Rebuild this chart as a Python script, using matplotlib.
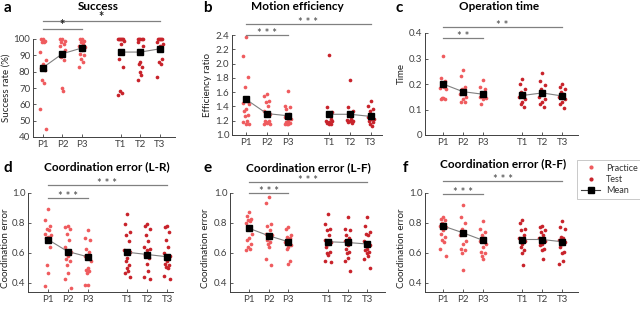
import matplotlib
matplotlib.use("Agg")
import matplotlib.pyplot as plt
from matplotlib.lines import Line2D

plt.rcParams["font.family"] = ["Lato", "DejaVu Sans"]

W, H = 640, 309

groups = ["P1", "P2", "P3", "T1", "T2", "T3"]
group_x = [1, 2, 3, 5, 6, 7]

success = [
    [100, 100, 99, 98, 98, 92, 87, 85, 82, 81, 75, 73, 57, 45],
    [100, 100, 99, 98, 97, 96, 93, 91, 89, 87, 70, 68],
    [100, 100, 99, 98, 97, 96, 95, 93, 91, 90, 88, 86, 83],
    [100, 100, 100, 100, 100, 100, 99, 97, 88, 83, 68, 67, 66],
    [100, 100, 100, 100, 100, 98, 96, 86, 85, 83, 80, 78, 75],
    [100, 100, 100, 100, 100, 98, 97, 96, 94, 88, 86, 85, 77],
]
success_mean = [82.5, 91, 94.5, 92, 92, 94]

efficiency = [
    [2.37, 2.10, 1.81, 1.67, 1.47, 1.45, 1.43, 1.37, 1.34, 1.28, 1.26, 1.20, 1.18, 1.16, 1.15],
    [1.57, 1.54, 1.48, 1.46, 1.40, 1.34, 1.30, 1.28, 1.20, 1.19, 1.18, 1.17, 1.16, 1.16],
    [1.62, 1.41, 1.39, 1.36, 1.30, 1.25, 1.22, 1.20, 1.18, 1.17, 1.16, 1.15, 1.15],
    [2.12, 1.39, 1.32, 1.29, 1.22, 1.20, 1.19, 1.18, 1.17, 1.16, 1.15],
    [1.77, 1.39, 1.33, 1.28, 1.23, 1.21, 1.20, 1.19, 1.18, 1.17],
    [1.48, 1.40, 1.36, 1.33, 1.28, 1.25, 1.23, 1.22, 1.20, 1.18, 1.15, 1.13],
]
efficiency_mean = [1.50, 1.30, 1.27, 1.29, 1.29, 1.26]

op_time = [
    [0.31, 0.225, 0.21, 0.20, 0.19, 0.185, 0.18, 0.145, 0.14, 0.14, 0.145],
    [0.255, 0.23, 0.19, 0.18, 0.17, 0.16, 0.15, 0.14, 0.13, 0.13],
    [0.215, 0.19, 0.18, 0.165, 0.155, 0.15, 0.145, 0.14, 0.12],
    [0.22, 0.20, 0.18, 0.17, 0.16, 0.15, 0.14, 0.13, 0.12, 0.11],
    [0.245, 0.21, 0.195, 0.18, 0.17, 0.15, 0.14, 0.13, 0.12, 0.11],
    [0.20, 0.19, 0.18, 0.17, 0.16, 0.15, 0.14, 0.13, 0.12, 0.105],
]
op_time_mean = [0.20, 0.17, 0.16, 0.155, 0.165, 0.153]

coord_lr = [
    [0.89, 0.82, 0.78, 0.76, 0.75, 0.73, 0.72, 0.71, 0.70, 0.64, 0.52, 0.47, 0.38],
    [0.78, 0.77, 0.76, 0.73, 0.69, 0.64, 0.61, 0.58, 0.56, 0.55, 0.52, 0.47, 0.43, 0.37],
    [0.75, 0.70, 0.69, 0.63, 0.61, 0.58, 0.55, 0.50, 0.49, 0.48, 0.47, 0.39, 0.39],
    [0.86, 0.79, 0.74, 0.72, 0.68, 0.62, 0.61, 0.57, 0.55, 0.52, 0.50, 0.48, 0.47, 0.44],
    [0.79, 0.78, 0.76, 0.72, 0.68, 0.64, 0.63, 0.62, 0.59, 0.57, 0.53, 0.48, 0.44, 0.43],
    [0.78, 0.77, 0.74, 0.69, 0.64, 0.60, 0.58, 0.55, 0.53, 0.52, 0.51, 0.50, 0.45, 0.43],
]
coord_lr_mean = [0.69, 0.61, 0.575, 0.605, 0.59, 0.575]

coord_lf = [
    [0.87, 0.85, 0.83, 0.82, 0.81, 0.80, 0.73, 0.70, 0.69, 0.66, 0.64, 0.63, 0.62],
    [0.97, 0.93, 0.79, 0.78, 0.75, 0.73, 0.72, 0.70, 0.69, 0.67, 0.66, 0.64, 0.56, 0.52],
    [0.77, 0.76, 0.72, 0.71, 0.70, 0.67, 0.65, 0.64, 0.63, 0.55, 0.53],
    [0.86, 0.79, 0.76, 0.75, 0.72, 0.69, 0.67, 0.66, 0.64, 0.61, 0.60, 0.59, 0.55, 0.54],
    [0.84, 0.76, 0.75, 0.72, 0.70, 0.68, 0.67, 0.65, 0.63, 0.61, 0.60, 0.57, 0.55, 0.48],
    [0.84, 0.78, 0.74, 0.73, 0.72, 0.68, 0.65, 0.63, 0.62, 0.61, 0.60, 0.58, 0.56, 0.50],
]
coord_lf_mean = [0.765, 0.715, 0.675, 0.675, 0.67, 0.66]

coord_rf = [
    [0.84, 0.83, 0.82, 0.80, 0.79, 0.78, 0.77, 0.75, 0.73, 0.71, 0.69, 0.67, 0.63, 0.58],
    [0.92, 0.84, 0.80, 0.76, 0.74, 0.72, 0.68, 0.66, 0.63, 0.62, 0.60, 0.49],
    [0.81, 0.76, 0.74, 0.72, 0.70, 0.68, 0.66, 0.64, 0.61, 0.60, 0.58, 0.56],
    [0.82, 0.80, 0.76, 0.75, 0.72, 0.70, 0.68, 0.66, 0.64, 0.62, 0.60, 0.52],
    [0.78, 0.77, 0.75, 0.74, 0.72, 0.70, 0.68, 0.66, 0.65, 0.63, 0.62, 0.56],
    [0.81, 0.77, 0.76, 0.71, 0.70, 0.69, 0.67, 0.66, 0.64, 0.61, 0.60, 0.55, 0.53],
]
coord_rf_mean = [0.78, 0.735, 0.685, 0.69, 0.69, 0.675]

PRACTICE = "#ef5b5e"
TEST = "#c8232b"
AXC = "#404040"

panels = [
    dict(letter="a", title="Success", ylabel="Success rate (%)", data=success, mean=success_mean,
         box=(33, 175, 39, 137), xlim=(0.49, 7.77), ylim=(40, 100),
         yticks=[40, 50, 60, 70, 80, 90, 100], ytl=None,
         sig=[(3, 1.10, "*"), (7, 1.18, "*")], big_star=True,
         letter_xy=(4, 8), title_xy=(98, 7), ylab_xy=(6, 88)),
    dict(letter="b", title="Motion efficiency", ylabel="Efficiency ratio", data=efficiency, mean=efficiency_mean,
         box=(232, 382, 35, 135), xlim=(0.33, 7.53), ylim=(1.0, 2.4),
         yticks=[1.0, 1.2, 1.4, 1.6, 1.8, 2.0, 2.2, 2.4], ytl=None,
         sig=[(3, 1.005, "***"), (7, 1.11, "***")], big_star=False,
         letter_xy=(203, 8), title_xy=(297, 7), ylab_xy=(207, 85)),
    dict(letter="c", title="Operation time", ylabel="Time", data=op_time, mean=op_time_mean,
         box=(425, 578, 33, 135), xlim=(0.09, 7.8), ylim=(0, 0.4),
         yticks=[0, 0.1, 0.2, 0.3, 0.4], ytl=["0", "0.1", "0.2", "0.3", "0.4"],
         sig=[(3, 0.95, "**"), (7, 1.06, "**")], big_star=False,
         letter_xy=(396, 8), title_xy=(499, 7), ylab_xy=(401, 73)),
    dict(letter="d", title="Coordination error (L-R)", ylabel="Coordination error", data=coord_lr, mean=coord_lr_mean,
         box=(28, 173, 193, 292), xlim=(0.0, 7.3), ylim=(0.34, 1.0),
         yticks=[0.4, 0.6, 0.8, 1.0], ytl=None,
         sig=[(3, 0.95, "***"), (7, 1.08, "***")], big_star=False,
         letter_xy=(4, 168), title_xy=(107, 167), ylab_xy=(6, 248)),
    dict(letter="e", title="Coordination error (L-F)", ylabel="Coordination error", data=coord_lf, mean=coord_lf_mean,
         box=(230, 385, 193, 292), xlim=(0.04, 7.9), ylim=(0.34, 1.0),
         yticks=[0.4, 0.6, 0.8, 1.0], ytl=None,
         sig=[(3, 1.0, "***"), (7, 1.11, "***")], big_star=False,
         letter_xy=(204, 168), title_xy=(308, 168), ylab_xy=(205, 248)),
    dict(letter="f", title="Coordination error (R-F)", ylabel="Coordination error", data=coord_rf, mean=coord_rf_mean,
         box=(425, 578, 193, 292), xlim=(0.09, 7.8), ylim=(0.34, 1.0),
         yticks=[0.4, 0.6, 0.8, 1.0], ytl=None,
         sig=[(3, 0.99, "***"), (7, 1.12, "***")], big_star=False,
         letter_xy=(403, 168), title_xy=(503, 164), ylab_xy=(401, 248)),
]

# small fixed horizontal spread of the dots around each group
spread = [0.0, -0.12, 0.12, -0.06, 0.06, -0.15, 0.15, 0.0, -0.09, 0.09, -0.03, 0.03, -0.14, 0.14, 0.0]

fig = plt.figure(figsize=(W / 100, H / 100), dpi=100)

for p in panels:
    x0, x1, y0, y1 = p["box"]
    ax = fig.add_axes([x0 / W, 1 - y1 / H, (x1 - x0) / W, (y1 - y0) / H])
    for i, (gx, vals) in enumerate(zip(group_x, p["data"])):
        col = PRACTICE if i < 3 else TEST
        xs = [gx + spread[k % len(spread)] for k in range(len(vals))]
        ax.scatter(xs, vals, s=7, color=col, linewidths=0, zorder=2, clip_on=False)
    m = p["mean"]
    ax.plot(group_x[:3], m[:3], color="#808080", lw=0.8, zorder=3)
    ax.plot(group_x[3:], m[3:], color="#808080", lw=0.8, zorder=3)
    ax.plot(group_x, m, ls="none", marker="s", ms=4.2, color="black", zorder=4, clip_on=False)

    ax.set_xlim(*p["xlim"])
    ax.set_ylim(*p["ylim"])
    ax.set_xticks(group_x)
    ax.set_xticklabels(groups)
    ax.set_yticks(p["yticks"])
    if p["ytl"] is not None:
        ax.set_yticklabels(p["ytl"])
    else:
        ax.set_yticklabels([f"{t:g}" if t >= 10 else f"{t:.1f}" for t in p["yticks"]])
    for s in ("top", "right"):
        ax.spines[s].set_visible(False)
    for s in ("left", "bottom"):
        ax.spines[s].set_color(AXC)
        ax.spines[s].set_linewidth(0.7)
    ax.tick_params(direction="in", length=2, width=0.6, colors=AXC, labelsize=7, pad=2)

    tr = ax.get_xaxis_transform()
    for xend, yb, stars in p["sig"]:
        ax.plot([1, xend], [yb, yb], transform=tr, color="#808080", lw=0.9, clip_on=False)
        if p["big_star"]:
            ax.text((1 + xend) / 2, yb - 0.02, stars, transform=tr, ha="center", va="bottom",
                    fontsize=9, fontweight="bold", color="#222222")
        else:
            ax.text((1 + xend) / 2, yb - 0.04, " ".join(stars), transform=tr, ha="center", va="bottom",
                    fontsize=8, color="#444444")

    lx, ly = p["letter_xy"]
    fig.text(lx / W, 1 - ly / H, p["letter"], fontsize=11, fontweight="bold", va="center", ha="left")
    tx, ty = p["title_xy"]
    fig.text(tx / W, 1 - ty / H, p["title"], fontsize=8.5, fontweight="bold", va="center", ha="center")
    yx, yy = p["ylab_xy"]
    fig.text(yx / W, 1 - yy / H, p["ylabel"], fontsize=7, rotation=90, va="center", ha="center", color="#222222")

handles = [
    Line2D([], [], ls="none", marker="o", ms=3, mfc=PRACTICE, mec="none"),
    Line2D([], [], ls="none", marker="o", ms=3, mfc=TEST, mec="none"),
    Line2D([], [], color="#404040", lw=0.8, marker="s", ms=4, mfc="black", mec="black"),
]
leg = fig.legend(handles, ["Practice", "Test", "Mean"], loc="upper left",
                 bbox_to_anchor=(577 / W, 1 - 160 / H), fontsize=6.5, frameon=True,
                 fancybox=False, handlelength=2.2, handletextpad=0.6, labelspacing=0.25,
                 borderpad=0.4, borderaxespad=0)
leg.get_frame().set_edgecolor("#b0b0b0")
leg.get_frame().set_linewidth(0.6)
for t in leg.get_texts():
    t.set_color("#333333")

fig.savefig("out.png", dpi=100)
